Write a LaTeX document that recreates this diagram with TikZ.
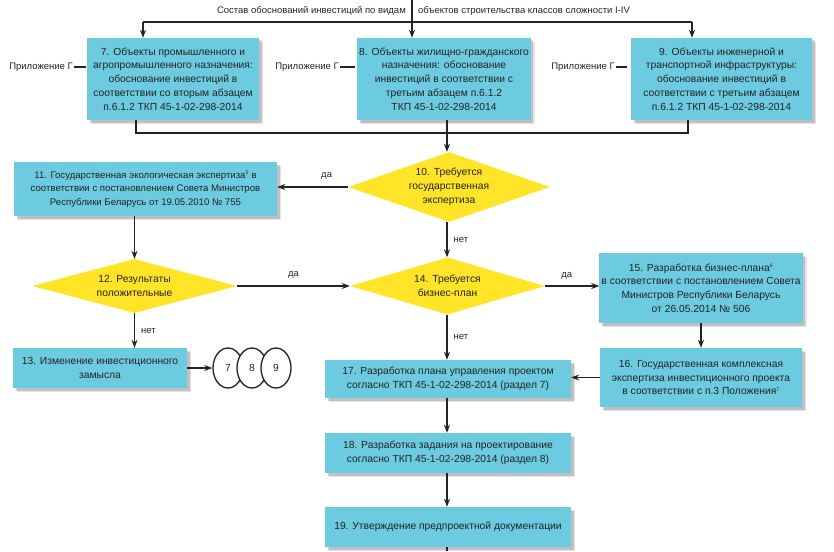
\documentclass[tikz,border=0pt]{standalone}
\usepackage{fontspec}
\setmainfont{Liberation Sans}
\usetikzlibrary{shapes.geometric,arrows.meta,shadows}
\definecolor{boxc}{RGB}{108,203,224}
\definecolor{yel}{RGB}{255,228,40}
\definecolor{ink}{RGB}{35,35,35}
\begin{document}
\begin{tikzpicture}[x=1pt,y=-1pt,
  every node/.style={font=\fontsize{10.3}{13.8}\selectfont, text=ink},
  box/.style={fill=boxc, align=center, inner sep=2pt,
    general shadow={shadow xshift=4pt, shadow yshift=-4pt, fill=black, opacity=0.10},
    drop shadow={shadow xshift=2.5pt, shadow yshift=-2.5pt, fill=black, opacity=0.16}},
  dia/.style={shape=diamond, fill=yel, align=center, inner sep=0pt},
  arr/.style={draw=ink, line width=1.3pt, -{Stealth[length=8pt,width=6pt]}},
  ln/.style={draw=ink, line width=1.3pt},
  lab/.style={inner sep=1pt, font=\fontsize{9.5}{12}\selectfont},
  circ/.style={shape=ellipse, draw=ink, line width=1.3pt, fill=white,
    minimum width=30pt, minimum height=40pt, inner sep=0pt}]
\useasboundingbox (0,0) rectangle (834,551);

% title
\node[anchor=east, lab, inner sep=0pt] (t1) at (406,11) {Состав обоснований инвестиций по видам};
\node[anchor=west, lab, inner sep=0pt] (t2) at (418,11) {объектов строительства классов сложности I-IV};

% top boxes
\node[box, minimum width=172pt, minimum height=82pt] (b7) at (173,79)
  {7. Объекты промышленного и\\агропромышленного назначения:\\обоснование инвестиций в\\соответствии со вторым абзацем\\п.6.1.2 ТКП 45-1-02-298-2014};
\node[box, minimum width=173pt, minimum height=82pt] (b8) at (444,79)
  {8. Объекты жилищно-гражданского\\назначения: обоснование\\инвестиций в соответствии с\\третьим абзацем п.6.1.2\\ТКП 45-1-02-298-2014};
\node[box, minimum width=181pt, minimum height=82pt] (b9) at (721.5,79)
  {9. Объекты инженерной и\\транспортной инфраструктуры:\\обоснование инвестиций в\\соответствии с третьим абзацем\\п.6.1.2 ТКП 45-1-02-298-2014};

\node[anchor=east, lab] (p7) at (74,67) {Приложение Г};
\node[anchor=east, lab] (p8) at (340,67) {Приложение Г};
\node[anchor=east, lab] (p9) at (616,67) {Приложение Г};
\draw[ln] (p7.east) -- ++(12,0);
\draw[ln] (p8.east) -- ++(15,0);
\draw[ln] (p9.east) -- ++(11,0);

% decisions and boxes
\node[dia, minimum width=202pt, minimum height=70pt, aspect=2.9] (d10) at (449,187)
  {10. Требуется\\государственная\\экспертиза};
\node[box, minimum width=263pt, minimum height=54pt, font=\fontsize{9.6}{13.5}\selectfont] (b11) at (145.5,189)
  {11. Государственная экологическая экспертиза\textsuperscript{\fontsize{5}{5}\selectfont 5} в\\соответствии с постановлением Совета Министров\\Республики Беларусь от 19.05.2010 № 755};
\node[dia, minimum width=205pt, minimum height=54pt, aspect=3.8] (d12) at (134.5,286)
  {12. Результаты\\положительные};
\node[dia, minimum width=195pt, minimum height=57pt, aspect=3.4] (d14) at (447.5,286)
  {14. Требуется\\бизнес-план};
\node[box, minimum width=202pt, minimum height=70pt] (b15) at (701,288)
  {15. Разработка бизнес-плана\textsuperscript{\fontsize{5}{5}\selectfont 6}\\в соответствии с постановлением Совета\\Министров Республики Беларусь\\от 26.05.2014 № 506};
\node[box, minimum width=202pt, minimum height=59pt] (b16) at (701,377.5)
  {16. Государственная комплексная\\экспертиза инвестиционного проекта\\в соответствии с п.3 Положения\textsuperscript{\fontsize{5}{5}\selectfont 7}};
\node[box, minimum width=174pt, minimum height=40pt] (b13) at (100,368)
  {13. Изменение инвестиционного\\замысла};
\node[box, minimum width=246pt, minimum height=38pt] (b17) at (448,379)
  {17. Разработка плана управления проектом\\согласно ТКП 45-1-02-298-2014 (раздел 7)};
\node[box, minimum width=246pt, minimum height=40pt] (b18) at (448,453)
  {18. Разработка задания на проектирование\\согласно ТКП 45-1-02-298-2014 (раздел 8)};
\node[box, minimum width=246pt, minimum height=40pt] (b19) at (448,527)
  {19. Утверждение предпроектной документации};

% circles
\node[circ] (c7) at (228,368) {7};
\node[circ] (c8) at (252,368) {8};
\node[circ] (c9) at (276,368) {9};

% coordinates
\coordinate (top) at (412,0);
\coordinate (hl) at (143,22);
\coordinate (hr) at (692,22);
\coordinate (ll) at (136,133);
\coordinate (lr) at (688,133);
\coordinate (m) at (447,0);
\coordinate (bot) at (447,551);

% top connectors
\draw[arr] (top) -- (top |- b8.north);
\draw[ln] (hl) -- (hr);
\draw[arr] (hl) -- (hl |- b7.north);
\draw[arr] (hr) -- (hr |- b9.north);
\draw[ln] (ll |- b7.south) -- (ll) -- (lr) -- (lr |- b9.south);
\draw[arr] (m |- b8.south) -- (m |- d10.north);

% flow
\draw[arr] (d10.west) -- (d10.west -| b11.east) node[lab, pos=0.3, above=6pt] {да};
\draw[arr] (d12.north |- b11.south) -- (d12.north);
\draw[arr] (m |- d10.south) -- (m |- d14.north) node[lab, midway, right=5pt] {нет};
\draw[arr] (d12.east) -- (d14.west) node[lab, midway, above=6pt] {да};
\draw[arr] (d12.south) -- (d12.south |- b13.north) node[lab, midway, right=5pt] {нет};
\draw[arr] (b13.east) -- (c7.west);
\draw[arr] (d14.east) -- (d14.east -| b15.west) node[lab, pos=0.4, above=5pt] {да};
\draw[arr] (b15.south) -- (b15.south |- b16.north);
\draw[arr] (b16.west) -- (b16.west -| b17.east);
\draw[arr] (m |- d14.south) -- (m |- b17.north) node[lab, midway, right=5pt] {нет};
\draw[arr] (m |- b17.south) -- (m |- b18.north);
\draw[arr] (m |- b18.south) -- (m |- b19.north);
\draw[ln] (m |- b19.south) -- (bot);
\end{tikzpicture}
\end{document}
